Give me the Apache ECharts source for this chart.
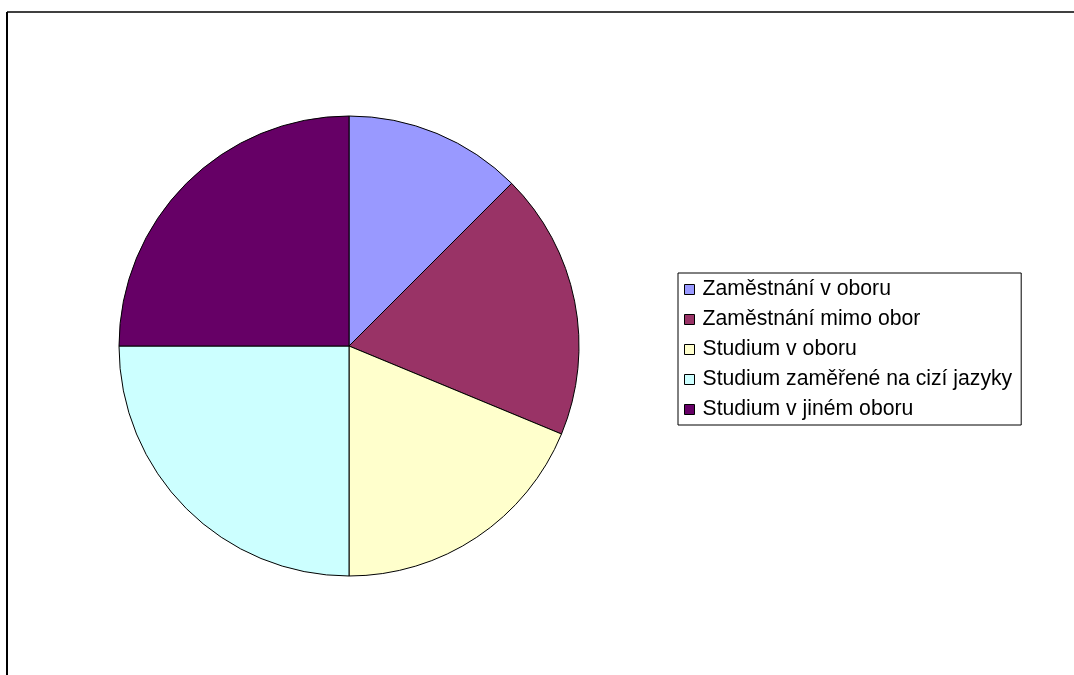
<!DOCTYPE html>
<html>
<head>
<meta charset="utf-8">
<script src="https://cdn.jsdelivr.net/npm/echarts@6/dist/echarts.min.js"></script>
<style>
html,body{margin:0;padding:0;background:#fff;}
#chart{width:1074px;height:675px;}
</style>
</head>
<body>
<div id="chart"></div>
<script>
const categories = ['Zaměstnání v oboru', 'Zaměstnání mimo obor', 'Studium v oboru', 'Studium zaměřené na cizí jazyky', 'Studium v jiném oboru'];
const values = [2, 3, 3, 4, 4];
const colors = ['#9999FF', '#993366', '#FFFFCC', '#CCFFFF', '#660066'];

const chart = echarts.init(document.getElementById('chart'), null, {renderer: 'canvas'});
chart.setOption({
  animation: false,
  backgroundColor: '#ffffff',
  color: colors,
  graphic: [
    {type: 'line', shape: {x1: 7, y1: 12, x2: 1074, y2: 12}, style: {stroke: '#404040', lineWidth: 2}},
    {type: 'line', shape: {x1: 7, y1: 12, x2: 7, y2: 675}, style: {stroke: '#000000', lineWidth: 2}}
  ],
  legend: {
    orient: 'vertical',
    left: 678,
    top: 273,
    padding: [6, 9, 5, 6],
    borderColor: '#000000',
    borderWidth: 1,
    itemWidth: 10,
    itemHeight: 10,
    itemGap: 9,
    icon: 'rect',
    itemStyle: {borderColor: '#000000', borderWidth: 1},
    textStyle: {fontFamily: 'Liberation Sans, Arial, sans-serif', fontSize: 21.2, lineHeight: 21, color: '#000000', padding: [0, 0, 0, 3]},
    data: categories
  },
  series: [{
    type: 'pie',
    center: [349, 346],
    radius: 230,
    startAngle: 90,
    clockwise: true,
    label: {show: false},
    labelLine: {show: false},
    emphasis: {disabled: true},
    itemStyle: {borderColor: '#000000', borderWidth: 1},
    data: categories.map((c, i) => ({name: c, value: values[i]}))
  }]
});
</script>
</body>
</html>
